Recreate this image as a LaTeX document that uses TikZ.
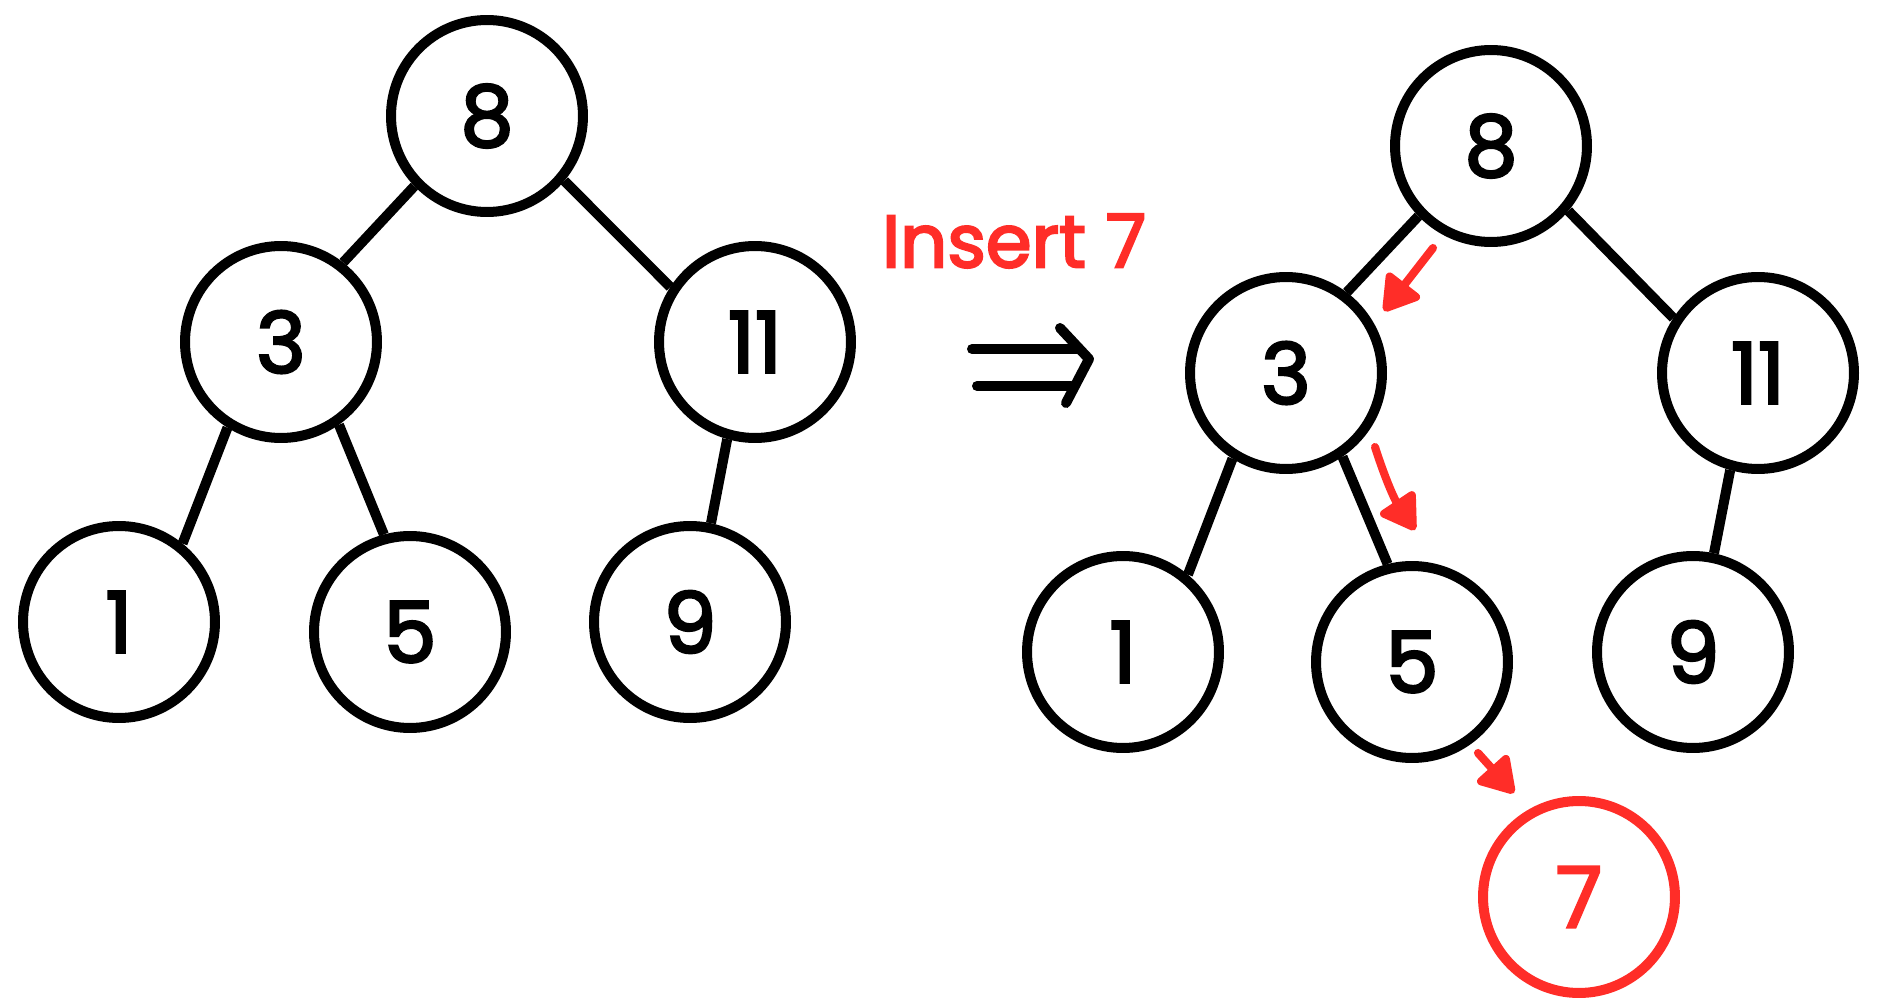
\documentclass[tikz,border=0pt]{standalone}
\usepackage{fontspec}
\setmainfont{Poppins}
\newfontfamily\handfont[FakeBold=3]{Poppins}
\usetikzlibrary{arrows.meta}
\definecolor{inkred}{RGB}{255,45,40}
\begin{document}
\begin{tikzpicture}[x=0.02cm,y=-0.02cm,
  treenode/.style={circle,draw=black,line width=5.7pt,minimum size=3.84cm,inner sep=0pt,
    font=\handfont\fontsize{48}{52}\selectfont},
  newnode/.style={treenode,draw=inkred,text=inkred},
  treeedge/.style={line width=5.7pt,draw=black},
  redarrow/.style={line width=4.6pt,draw=inkred,line cap=round,
    -{Triangle[length=22pt,width=26pt,round]}},
  dblarrow/.style={line width=5.7pt,draw=black,line cap=round,line join=round}]
\useasboundingbox (0,0) rectangle (1891,1000);
% left tree
\node[treenode] (a8) at (487,116) {8};
\node[treenode] (a3) at (281,342) {3};
\node[treenode] (a11) at (755,342) {11};
\node[treenode] (a1) at (119,622) {1};
\node[treenode] (a5) at (410,632) {5};
\node[treenode] (a9) at (690,622) {9};
\draw[treeedge] (a8.224) -- (a3.52);
\draw[treeedge] (a8.-40) -- (a11.147);
\draw[treeedge] (a3.238) -- (a1.51);
\draw[treeedge] (a3.-55) -- (a5.105);
\draw[treeedge] (a11.-106) -- (a9.78);
% right tree
\node[treenode] (b8) at (1491,146) {8};
\node[treenode] (b3) at (1286,373) {3};
\node[treenode] (b11) at (1758,373) {11};
\node[treenode] (b1) at (1123,652) {1};
\node[treenode] (b5) at (1412,662) {5};
\node[treenode] (b9) at (1693,652) {9};
\node[newnode] (b7) at (1579,897) {7};
\draw[treeedge] (b8.224) -- (b3.53);
\draw[treeedge] (b8.-40) -- (b11.147);
\draw[treeedge] (b3.238) -- (b1.50);
\draw[treeedge] (b3.-56) -- (b5.104);
\draw[treeedge] (b11.-106) -- (b9.78);
% label
\node[text=inkred,font=\handfont\fontsize{42}{46}\selectfont] (ins) at (1014,241) {Insert 7};
% double arrow
\coordinate (t1) at (972,349);
\coordinate (t2) at (1077,349);
\coordinate (u1) at (977,386);
\coordinate (u2) at (1071,386);
\coordinate (c1) at (1060,328);
\coordinate (c2) at (1089,359);
\coordinate (c3) at (1066,403);
\draw[dblarrow] (t1) -- (t2);
\draw[dblarrow] (u1) -- (u2);
\draw[dblarrow] (c1) -- (c2) -- (c3);
% red path arrows
\coordinate (r1s) at (1433,248);
\coordinate (r1e) at (1384,311);
\coordinate (r2s) at (1375,447);
\coordinate (r2e) at (1415,530);
\coordinate (r3s) at (1478,753);
\coordinate (r3e) at (1514,793);
\draw[redarrow] (r1s) -- (r1e);
\draw[redarrow] (r2s) to[bend right=8] (r2e);
\draw[redarrow] (r3s) -- (r3e);
\end{tikzpicture}
\end{document}
